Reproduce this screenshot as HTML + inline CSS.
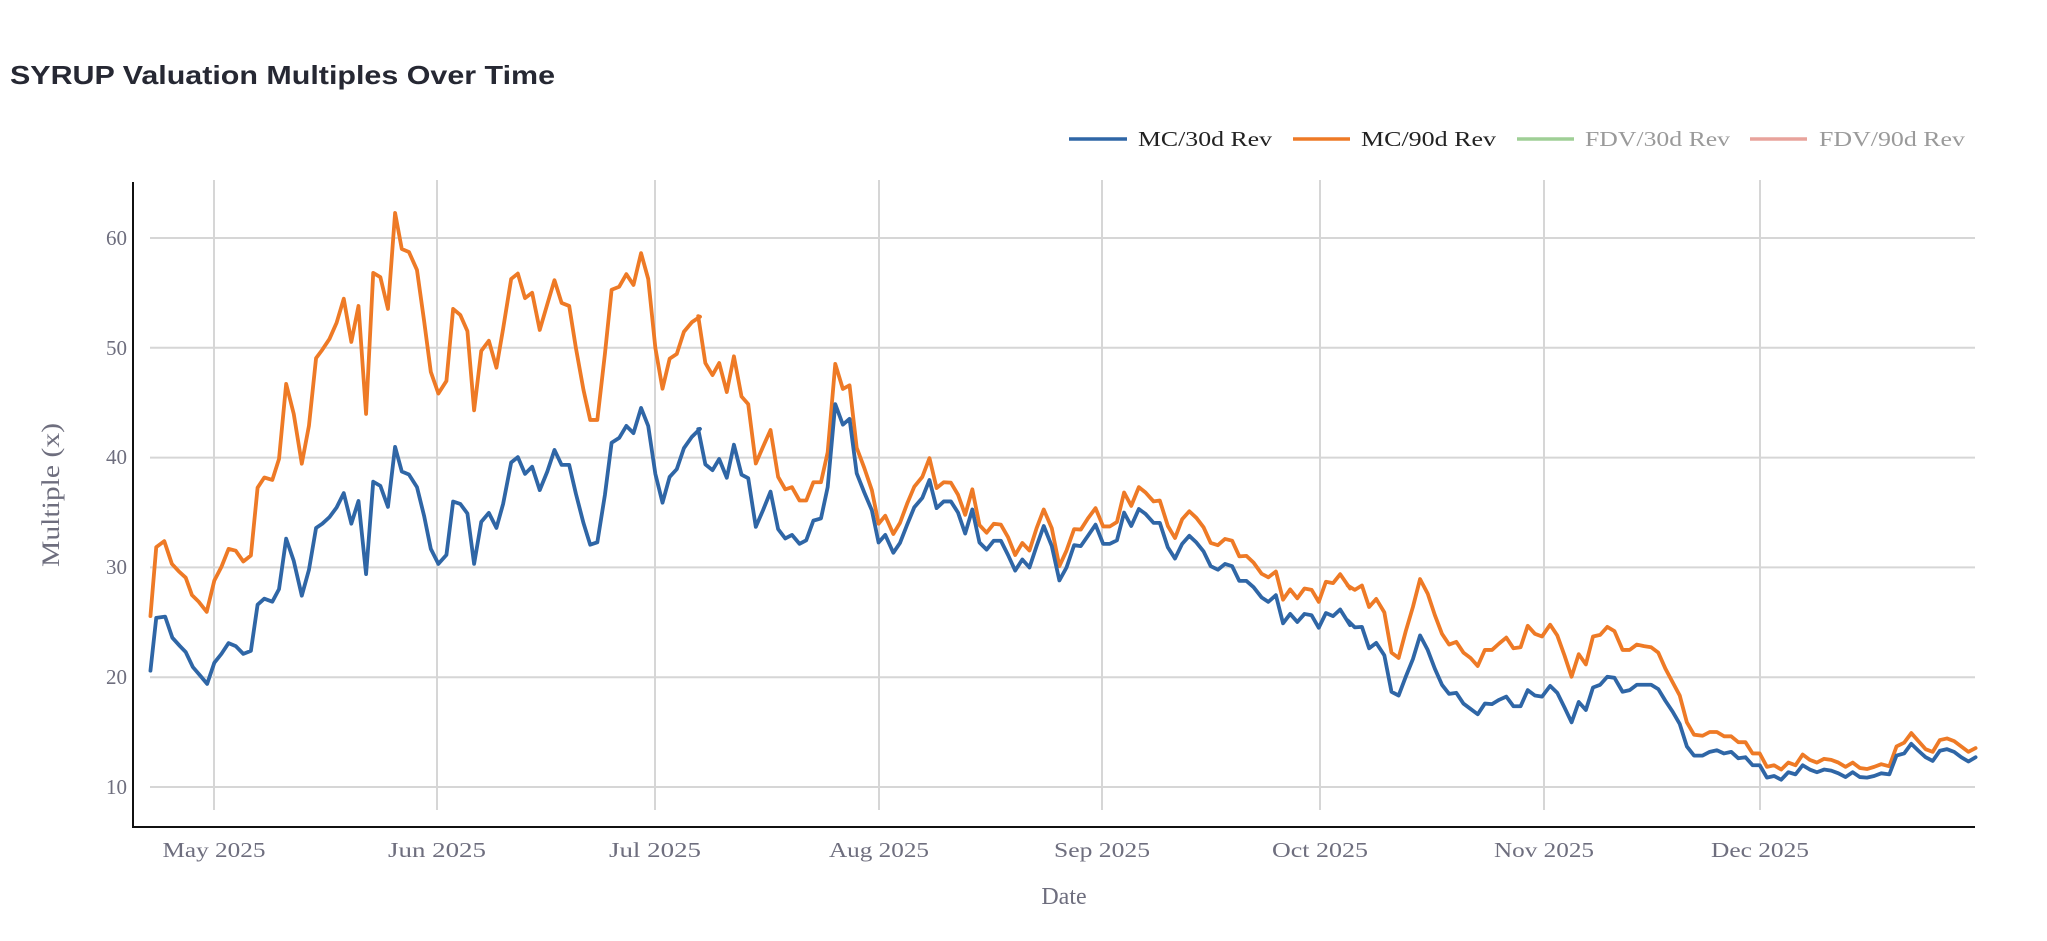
<!DOCTYPE html>
<html><head><meta charset="utf-8"><style>
html,body{margin:0;padding:0;background:#fff;}
svg{display:block;}
</style></head><body>
<svg width="2047" height="941" viewBox="0 0 2047 941" xmlns="http://www.w3.org/2000/svg">
<rect width="2047" height="941" fill="#fff"/>
<text x="10" y="84" font-family="Liberation Sans, sans-serif" font-weight="bold" font-size="26" fill="#262833" textLength="545" lengthAdjust="spacingAndGlyphs">SYRUP Valuation Multiples Over Time</text>
<!-- legend -->
<g font-family="Liberation Serif, serif" font-size="21">
<line x1="1069" y1="139" x2="1127" y2="139" stroke="#2f66a6" stroke-width="3.5"/>
<text x="1138" y="146" fill="#222" textLength="134" lengthAdjust="spacingAndGlyphs">MC/30d Rev</text>
<line x1="1293" y1="139" x2="1350" y2="139" stroke="#ee7a26" stroke-width="3.5"/>
<text x="1361" y="146" fill="#222" textLength="135" lengthAdjust="spacingAndGlyphs">MC/90d Rev</text>
<line x1="1517" y1="139" x2="1574" y2="139" stroke="#9fcf96" stroke-width="3.5"/>
<text x="1585" y="146" fill="#9a9a9a" textLength="145" lengthAdjust="spacingAndGlyphs">FDV/30d Rev</text>
<line x1="1750" y1="139" x2="1807" y2="139" stroke="#e8a39c" stroke-width="3.5"/>
<text x="1819" y="146" fill="#9a9a9a" textLength="146" lengthAdjust="spacingAndGlyphs">FDV/90d Rev</text>
</g>
<!-- grid -->
<g stroke="#d6d6d6" stroke-width="2">
<line x1="150" x2="1975" y1="787" y2="787"/>
<line x1="150" x2="1975" y1="677.2" y2="677.2"/>
<line x1="150" x2="1975" y1="567.4" y2="567.4"/>
<line x1="150" x2="1975" y1="457.6" y2="457.6"/>
<line x1="150" x2="1975" y1="347.8" y2="347.8"/>
<line x1="150" x2="1975" y1="238" y2="238"/>
<line x1="214" x2="214" y1="180" y2="810"/>
<line x1="437" x2="437" y1="180" y2="810"/>
<line x1="655" x2="655" y1="180" y2="810"/>
<line x1="879" x2="879" y1="180" y2="810"/>
<line x1="1102" x2="1102" y1="180" y2="810"/>
<line x1="1320" x2="1320" y1="180" y2="810"/>
<line x1="1544" x2="1544" y1="180" y2="810"/>
<line x1="1760" x2="1760" y1="180" y2="810"/>
</g>
<line x1="133" y1="182" x2="133" y2="827" stroke="#111" stroke-width="2"/>
<line x1="132" y1="827" x2="1975" y2="827" stroke="#111" stroke-width="2"/>
<!-- y ticks -->
<g font-family="Liberation Serif, serif" font-size="21" fill="#6e6e7e" text-anchor="end">
<text x="127" y="794">10</text>
<text x="127" y="684">20</text>
<text x="127" y="574">30</text>
<text x="127" y="464">40</text>
<text x="127" y="355">50</text>
<text x="127" y="245">60</text>
</g>
<g font-family="Liberation Serif, serif" font-size="21" fill="#6e6e7e" text-anchor="middle">
<text x="214" y="857" textLength="103" lengthAdjust="spacingAndGlyphs">May 2025</text>
<text x="437" y="857" textLength="98" lengthAdjust="spacingAndGlyphs">Jun 2025</text>
<text x="655" y="857" textLength="92" lengthAdjust="spacingAndGlyphs">Jul 2025</text>
<text x="879" y="857" textLength="100" lengthAdjust="spacingAndGlyphs">Aug 2025</text>
<text x="1102" y="857" textLength="96" lengthAdjust="spacingAndGlyphs">Sep 2025</text>
<text x="1320" y="857" textLength="96" lengthAdjust="spacingAndGlyphs">Oct 2025</text>
<text x="1544" y="857" textLength="100" lengthAdjust="spacingAndGlyphs">Nov 2025</text>
<text x="1760" y="857" textLength="98" lengthAdjust="spacingAndGlyphs">Dec 2025</text>
<text x="1064" y="904" font-size="24">Date</text>
<text transform="translate(59,495) rotate(-90)" font-size="25" textLength="144" lengthAdjust="spacingAndGlyphs">Multiple (x)</text>
</g>
<!-- series -->
<g fill="none" stroke-width="3.8" stroke-linejoin="round" stroke-linecap="round">
<g transform="scale(0.44643,0.59988)">
<polyline vector-effect="non-scaling-stroke" stroke="#ee7a26" points="337,1027 350,912 368,902 385,940 400,952 416,963 430,992 445,1003 463,1020 480,968 496,945 512,915 528,918 545,936 562,926 577,813 592,796 610,800 625,765 641,640 658,690 676,773 692,710 708,597 722,583 738,565 754,538 770,498 787,570 803,510 820,690 836,455 852,462 869,515 885,355 900,415 916,420 934,450 950,535 965,620 982,656 1000,635 1015,515 1031,525 1047,552 1062,684 1078,585 1095,568 1112,613 1127,548 1145,465 1160,456 1176,497 1192,488 1209,550 1226,507 1242,467 1258,505 1275,510 1290,580 1307,650 1322,700 1338,700 1355,590 1370,483 1387,478 1403,457 1419,475 1436,422 1452,465 1468,580 1484,648 1500,598 1516,590 1532,553 1550,537 1568,528"/>
<polyline vector-effect="non-scaling-stroke" stroke="#2f66a6" points="337,1118 350,1030 370,1028 386,1063 403,1077 416,1087 432,1112 447,1125 464,1140 480,1105 496,1090 512,1072 528,1077 545,1090 562,1085 577,1008 592,998 610,1003 625,982 641,898 658,935 676,993 692,950 708,880 722,873 738,862 754,846 770,822 787,873 803,835 820,957 836,803 852,810 869,845 885,745 900,786 916,791 934,812 950,860 965,915 982,940 1000,925 1015,836 1031,840 1047,856 1062,940 1078,870 1095,855 1112,880 1127,840 1145,771 1160,762 1176,790 1192,778 1209,817 1226,786 1242,750 1258,775 1275,775 1290,823 1307,872 1322,908 1338,904 1355,825 1370,738 1387,730 1403,710 1419,722 1436,680 1452,710 1468,790 1484,838 1500,795 1516,782 1532,747 1550,728 1568,715"/>
</g>
<g transform="translate(650,180) scale(0.44643)">
<polyline vector-effect="non-scaling-stroke" stroke="#ee7a26" points="108,305 124,410 140,437 155,410 172,475 188,395 205,485 220,502 237,635 253,598 270,560 287,665 303,693 318,688 335,718 350,718 366,677 383,677 398,610 415,412 432,468 447,460 463,600 480,645 497,695 512,770 527,752 545,793 560,768 576,725 592,687 610,665 626,623 642,690 658,677 674,678 690,705 706,750 722,693 738,773 754,790 770,770 786,772 802,800 818,840 834,813 850,830 866,780 882,738 900,780 917,865 933,830 950,782 965,783 981,758 998,735 1015,776 1030,776 1046,766 1062,700 1078,730 1095,688 1110,700 1128,720 1142,718 1160,775 1176,802 1192,760 1208,742 1224,757 1240,778 1256,813 1272,818 1288,804 1304,808 1320,843 1336,842 1352,857 1370,882 1385,890 1402,877 1418,940 1434,917 1450,937 1466,915 1482,918 1498,945 1514,900 1530,903 1546,883 1568,915"/>
<polyline vector-effect="non-scaling-stroke" stroke="#2f66a6" points="108,558 124,637 140,650 155,625 172,667 188,593 205,660 220,668 237,777 253,740 270,698 287,782 303,803 318,795 335,815 350,807 366,763 383,758 398,688 415,502 432,548 447,535 463,657 480,700 497,740 512,812 527,795 545,835 560,813 576,772 592,733 610,712 626,672 642,735 658,720 674,720 690,745 706,792 722,738 738,812 754,828 770,808 786,808 802,840 818,875 834,850 850,868 866,820 882,775 900,820 917,897 933,868 950,818 965,820 981,797 998,772 1015,815 1030,815 1046,807 1062,745 1078,775 1095,737 1110,748 1128,768 1142,768 1160,823 1176,848 1192,815 1208,797 1224,812 1240,832 1256,865 1272,873 1288,860 1304,865 1320,898 1336,898 1352,912 1370,935 1385,945 1402,930 1418,993 1434,972 1450,990 1466,972 1482,975 1498,1003 1514,970 1530,977 1546,962 1568,997"/>
</g>
<g transform="translate(1300,100) scale(0.47644,0.5365)">
<polyline vector-effect="non-scaling-stroke" stroke="#ee7a26" points="100,905 115,913 130,905 145,945 160,930 177,955 192,1030 207,1040 222,990 237,945 252,893 268,920 283,960 298,995 313,1015 328,1010 343,1030 358,1040 373,1055 388,1025 403,1025 418,1013 433,1002 448,1022 463,1020 478,980 493,995 508,1000 525,978 540,998 555,1035 570,1075 585,1033 600,1052 615,1000 630,997 645,982 660,990 677,1025 692,1025 707,1015 722,1018 737,1020 752,1030 767,1060 782,1085 797,1110 812,1160 827,1183 845,1185 860,1178 875,1178 890,1186 905,1186 920,1197 935,1197 950,1218 965,1218 980,1243 995,1240 1010,1248 1025,1235 1040,1240 1055,1220 1070,1230 1085,1235 1100,1228 1115,1230 1130,1235 1145,1243 1160,1235 1175,1245 1190,1247 1205,1243 1220,1238 1237,1242 1252,1205 1268,1198 1283,1180 1298,1195 1313,1210 1328,1215 1343,1193 1358,1190 1373,1195 1388,1205 1403,1215 1418,1208"/>
<polyline vector-effect="non-scaling-stroke" stroke="#2f66a6" points="100,970 115,983 130,982 145,1022 160,1012 177,1035 192,1103 207,1110 222,1075 237,1042 252,998 268,1025 283,1060 298,1090 313,1107 328,1105 343,1125 358,1135 373,1145 388,1125 403,1126 418,1118 433,1112 448,1130 463,1130 478,1100 493,1110 508,1112 525,1092 540,1105 555,1132 570,1160 585,1122 600,1137 615,1095 630,1090 645,1075 660,1077 677,1103 692,1100 707,1090 722,1090 737,1090 752,1098 767,1120 782,1140 797,1163 812,1205 827,1222 845,1222 860,1215 875,1212 890,1218 905,1215 920,1227 935,1225 950,1240 965,1240 980,1263 995,1260 1010,1267 1025,1253 1040,1257 1055,1240 1070,1248 1085,1253 1100,1248 1115,1250 1130,1255 1145,1262 1160,1253 1175,1262 1190,1263 1205,1260 1220,1255 1237,1257 1252,1222 1268,1218 1283,1200 1298,1213 1313,1225 1328,1232 1343,1213 1358,1210 1373,1215 1388,1225 1403,1233 1418,1225"/>
</g>
</g>
</svg>
</body></html>
